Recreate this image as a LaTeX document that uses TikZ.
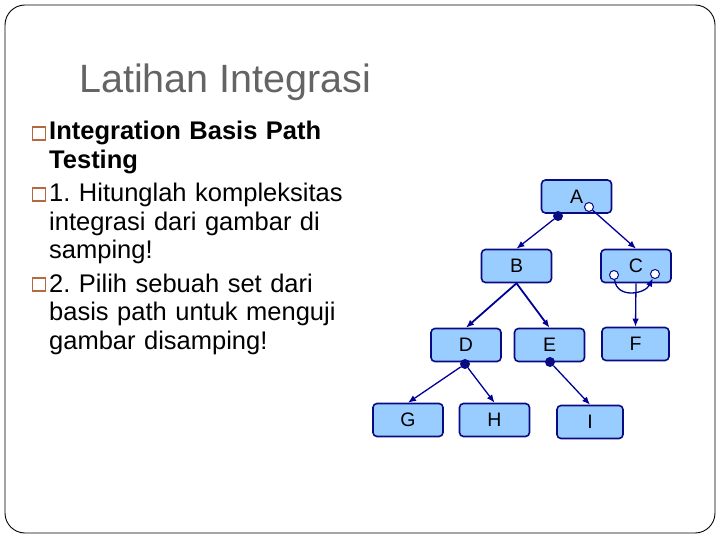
\documentclass[tikz,border=0pt]{standalone}
\usepackage{fontspec}
\setmainfont{Liberation Sans}
\usetikzlibrary{calc,positioning,arrows.meta,shapes}
\definecolor{titelgrau}{RGB}{100,100,100}
\definecolor{punktbraun}{RGB}{184,104,64}
\definecolor{modulfill}{RGB}{153,204,255}
\definecolor{modulrand}{RGB}{10,10,130}
\definecolor{pfeil}{RGB}{0,0,150}
\tikzset{
  folie/.style={
      draw=black,
      line width=0.9pt,
      rounded corners=20pt,
  },
  titel/.style={
      text=titelgrau,
      font=\fontsize{39.5}{44}\selectfont,
      inner sep=0pt,
      anchor=base west,
  },
  absatz/.style={
      text width=320pt,
      align=left,
      inner sep=0pt,
      anchor=base west,
      font=\fontsize{25.5}{28.5}\selectfont\frenchspacing,
  },
  absatzfett/.style={
      absatz,
      font=\fontsize{25.5}{28.5}\selectfont\frenchspacing\bfseries,
  },
  kaestchen/.style={
      draw=punktbraun,
      line width=1.2pt,
      minimum size=13pt,
      inner sep=0pt,
  },
  modul/.style={
      draw=modulrand,
      fill=modulfill,
      line width=1.6pt,
      rounded corners=4pt,
      minimum width=#1,
      minimum height=33pt,
      inner sep=0pt,
      font=\fontsize{19.5}{22}\selectfont,
  },
  modul/.default=70pt,
  punkt/.style={
      circle,
      fill=modulrand,
      minimum size=10pt,
      inner sep=0pt,
  },
  kreis/.style={
      circle,
      draw=modulrand,
      fill=white,
      line width=1pt,
      minimum size=9pt,
      inner sep=0pt,
  },
  aufruf/.style={
      draw=pfeil,
      line width=1.3pt,
      -{Latex[length=8pt,width=6.5pt]},
  },
}

\begin{document}
\begin{tikzpicture}[x=1pt,y=-1pt]
  \useasboundingbox (0,0) rectangle (720,540);
  \draw[folie] (5,5) rectangle (715,533);

  \node[titel] (titel) at (79,93) {Latihan Integrasi};

  % Aufgaben
  \node[absatzfett] (p1) at (49,140) {Integration Basis Path\\Testing};
  \node[absatz] (p2) at (49,202) {1. Hitunglah kompleksitas\\integrasi dari gambar di\\samping!};
  \node[absatz] (p3) at (49,292) {2. Pilih sebuah set dari\\basis path untuk menguji\\gambar disamping!};
  \node[kaestchen] (b1) at ($(p1.base west)+(-10,-6.5)$) {};
  \node[kaestchen] (b2) at ($(p2.base west)+(-10,-7.5)$) {};
  \node[kaestchen] (b3) at ($(p3.base west)+(-10,-7.5)$) {};

  % Modulbaum
  \node[modul] (A) at (576.5,196.5) {A};
  \node[modul] (B) at (516.5,266) {B};
  \node[modul] (C) at (636,266) {C};
  \node[modul] (D) at (466,345) {D};
  \node[modul] (E) at (549.5,345) {E};
  \node[modul=67pt] (F) at (635.5,344) {F};
  \node[modul] (G) at (408,420) {G};
  \node[modul] (H) at (494.5,420) {H};
  \node[modul=66pt] (I) at (590,422) {I};

  \node[punkt] (pA) at (558,216) {};
  \node[punkt] (pD) at (465,364) {};
  \node[punkt] (pE) at (550,362) {};
  \node[kreis] (kA) at (589,207) {};
  \node[kreis] (kCl) at (614,275) {};
  \node[kreis] (kCr) at (655,274) {};

  \draw[aufruf] (pA) -- (B.north);
  \draw[aufruf] (kA) -- (C.north);
  \draw[aufruf,line width=1.8pt] (B.south) -- (D.north);
  \draw[aufruf,line width=1.8pt] (B.south) -- (E.north);
  \draw[aufruf] (C.south) -- (F.north);
  \draw[aufruf] (kCl) .. controls +(3,24) and +(-10,20) .. (kCr);
  \draw[aufruf] (pD) -- (G.north);
  \draw[aufruf] (pD) -- (H.north);
  \draw[aufruf] (pE) -- (I.north);
\end{tikzpicture}
\end{document}
